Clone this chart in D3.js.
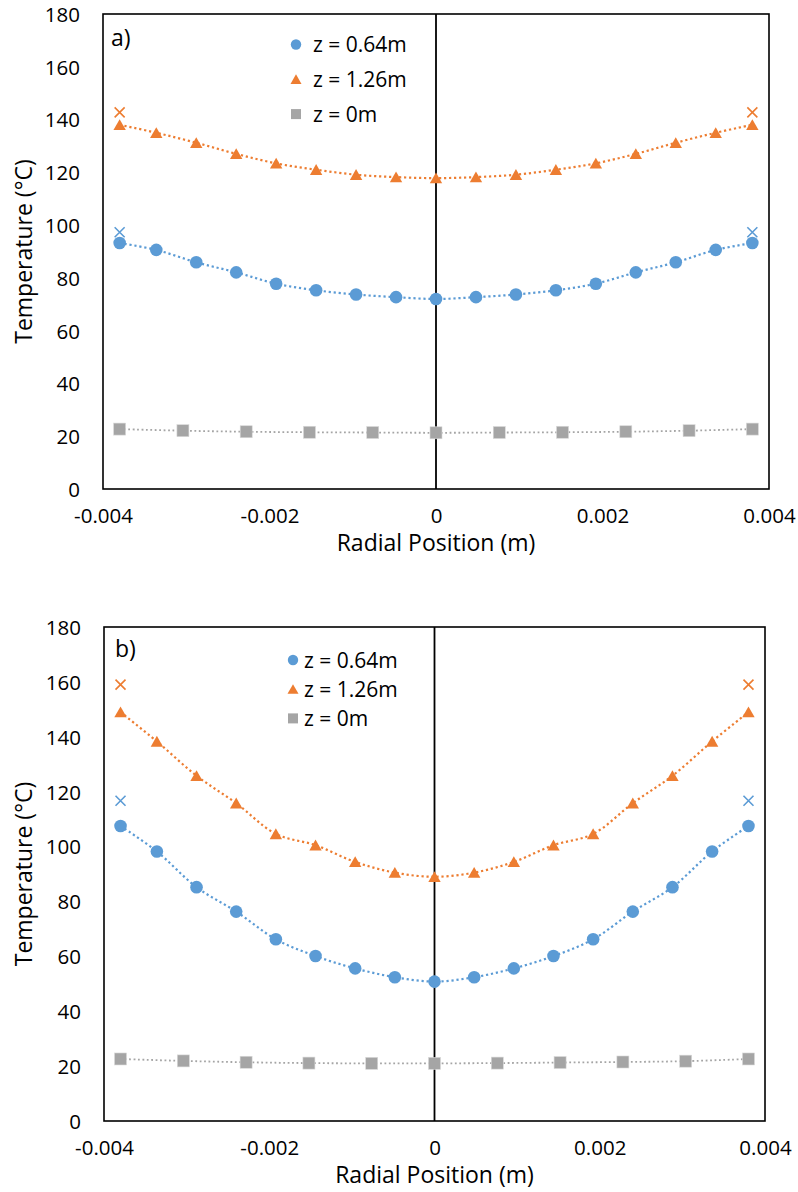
<!DOCTYPE html>
<html>
<head>
<meta charset="utf-8">
<script src="https://cdnjs.cloudflare.com/ajax/libs/d3/7.8.5/d3.min.js"></script>
<style>
  html, body { margin: 0; padding: 0; background: #ffffff; }
  svg { display: block; }
  text { font-family: "Open Sans", "Liberation Sans", sans-serif; fill: #000; }
</style>
</head>
<body>
<svg id="chart" width="798" height="1192"></svg>
<script>
// Radial grid of the simulated profiles (m)
const rFine = [-0.0038, -0.00336, -0.00288, -0.0024, -0.00192, -0.00144, -0.00096, -0.00048, 0,
               0.00048, 0.00096, 0.00144, 0.00192, 0.0024, 0.00288, 0.00336, 0.0038];
// Radial grid of the inlet profile (m)
const rInlet = [-0.0038, -0.00304, -0.00228, -0.00152, -0.00076, 0, 0.00076, 0.00152, 0.00228, 0.00304, 0.0038];
// Wall positions (m)
const rWall = [-0.0038, 0.0038];

// Panel a) temperatures (°C)
const a_z064 = [93.2, 90.6, 85.9, 82.1, 77.8, 75.3, 73.7, 72.7, 72.0, 72.7, 73.7, 75.3, 77.8, 82.1, 85.9, 90.6, 93.2];
const a_z126 = [138.0, 135.0, 131.2, 127.0, 123.4, 121.0, 119.1, 118.2, 117.8, 118.2, 119.1, 121.0, 123.4, 127.0, 131.2, 135.0, 138.0];
const a_z0   = [22.7, 22.1, 21.7, 21.5, 21.4, 21.3, 21.4, 21.5, 21.7, 22.1, 22.7];
const a_wall064 = [97.3, 97.3];
const a_wall126 = [142.7, 142.7];

// Panel b) temperatures (°C)
const b_z064 = [107.5, 98.2, 85.2, 76.3, 66.2, 60.1, 55.6, 52.4, 50.8, 52.4, 55.6, 60.1, 66.2, 76.3, 85.2, 98.2, 107.5];
const b_z126 = [149.0, 138.3, 125.8, 115.8, 104.6, 100.5, 94.4, 90.5, 89.0, 90.5, 94.4, 100.5, 104.6, 115.8, 125.8, 138.3, 149.0];
const b_z0   = [22.6, 21.9, 21.4, 21.1, 21.0, 21.0, 21.1, 21.3, 21.5, 21.8, 22.6];
const b_wall064 = [116.7, 116.7];
const b_wall126 = [159.0, 159.0];

// Axis ticks and labels
const xTicks = [-0.004, -0.002, 0, 0.002, 0.004];
const yTicks = [0, 20, 40, 60, 80, 100, 120, 140, 160, 180];
const seriesNames = ["z = 0.64m", "z = 1.26m", "z = 0m"];
const panelLabels = ["a)", "b)"];
const xTitle = "Radial Position (m)";
const yTitle = "Temperature (°C)";

const BLUE = "#5b9bd5", ORANGE = "#ed7d31", GRAY = "#a5a5a5";
const TICK_FS = 20.5, LEGEND_FS = 21, TITLE_FS = 23;

const svg = d3.select("#chart");

const panels = [
  { label: panelLabels[0], left: 103, top: 14, right: 769, bottom: 489,
    z064: a_z064, z126: a_z126, z0: a_z0, w064: a_wall064, w126: a_wall126,
    legend: { x: 296, y: 44.5, dy: 34.8, tx: 313 }, labelPos: { x: 111, y: 38 } },
  { label: panelLabels[1], left: 104, top: 627, right: 765, bottom: 1121,
    z064: b_z064, z126: b_z126, z0: b_z0, w064: b_wall064, w126: b_wall126,
    legend: { x: 293, y: 660, dy: 29.2, tx: 304 }, labelPos: { x: 115, y: 649 } }
];

const triPath = "M0,-5.6L6.2,5.2L-6.2,5.2Z";
const triPathSmall = "M0,-5L5.5,4.6L-5.5,4.6Z";

panels.forEach(p => {
  const g = svg.append("g");
  const x = d3.scaleLinear().domain([-0.004, 0.004]).range([p.left, p.right]);
  const y = d3.scaleLinear().domain([0, 180]).range([p.bottom, p.top]);

  // plot area frame
  g.append("rect")
    .attr("x", p.left).attr("y", p.top)
    .attr("width", p.right - p.left).attr("height", p.bottom - p.top)
    .attr("fill", "none").attr("stroke", "#000").attr("stroke-width", 1.6);

  // vertical axis line at r = 0
  g.append("line")
    .attr("x1", x(0)).attr("x2", x(0))
    .attr("y1", p.top).attr("y2", p.bottom)
    .attr("stroke", "#000").attr("stroke-width", 1.8);

  // y axis tick labels
  const yAxis = d3.axisLeft(y).tickValues(yTicks).tickSize(0).tickPadding(23)
    .tickFormat(d3.format("d"));
  const ya = g.append("g").attr("transform", `translate(${p.left},0)`).call(yAxis);
  ya.select(".domain").remove();
  ya.selectAll("text").attr("font-size", TICK_FS).attr("font-family", "Open Sans").attr("dy", "0.36em");

  // x axis tick labels
  const xAxis = d3.axisBottom(x).tickValues(xTicks).tickSize(0).tickPadding(19)
    .tickFormat(d => d === 0 ? "0" : d3.format(".3f")(d).replace("−", "-"));
  const xa = g.append("g").attr("transform", `translate(0,${p.bottom})`).call(xAxis);
  xa.select(".domain").remove();
  xa.selectAll("text").attr("font-size", TICK_FS).attr("font-family", "Open Sans").attr("dy", "0.71em");

  // axis titles
  g.append("text")
    .attr("x", (p.left + p.right) / 2).attr("y", p.bottom + 62)
    .attr("text-anchor", "middle").attr("font-size", TITLE_FS)
    .text(xTitle);
  g.append("text")
    .attr("transform", `translate(32,${(p.top + p.bottom) / 2}) rotate(-90)`)
    .attr("text-anchor", "middle").attr("font-size", TITLE_FS)
    .text(yTitle);

  // panel label
  g.append("text")
    .attr("x", p.labelPos.x).attr("y", p.labelPos.y).attr("dy", "0.36em")
    .attr("font-size", TITLE_FS).text(p.label);

  // smooth dotted profile lines
  const smooth = d3.line().curve(d3.curveCatmullRom.alpha(0.5));
  const drawLine = (xs, ys, color, width, dash) => {
    g.append("path")
      .attr("d", smooth(xs.map((r, i) => [x(r), y(ys[i])])))
      .attr("fill", "none").attr("stroke", color)
      .attr("stroke-width", width).attr("stroke-dasharray", dash);
  };
  drawLine(rInlet, p.z0, GRAY, 1.8, "1.8,2.6");
  drawLine(rFine, p.z064, BLUE, 2.2, "2.2,2.8");
  drawLine(rFine, p.z126, ORANGE, 2.2, "2.2,2.8");

  // inlet squares
  g.selectAll(null).data(p.z0).join("rect")
    .attr("x", (d, i) => x(rInlet[i]) - 6).attr("y", d => y(d) - 6)
    .attr("width", 12).attr("height", 12)
    .attr("fill", GRAY).attr("stroke", "#d9d9d9").attr("stroke-width", 0.6);

  // z = 0.64 m circles
  g.selectAll(null).data(p.z064).join("circle")
    .attr("cx", (d, i) => x(rFine[i])).attr("cy", d => y(d))
    .attr("r", 6.3).attr("fill", BLUE);

  // z = 1.26 m triangles
  g.selectAll(null).data(p.z126).join("path")
    .attr("transform", (d, i) => `translate(${x(rFine[i])},${y(d)})`)
    .attr("d", triPath).attr("fill", ORANGE);

  // wall temperature crosses
  const cross = (vals, color) => {
    g.selectAll(null).data(vals).join("path")
      .attr("transform", (d, i) => `translate(${x(rWall[i])},${y(d)})`)
      .attr("d", "M-5,-5L5,5M-5,5L5,-5")
      .attr("stroke", color).attr("stroke-width", 1.6).attr("fill", "none");
  };
  cross(p.w064, BLUE);
  cross(p.w126, ORANGE);

  // legend
  const L = p.legend;
  const lg = g.append("g");
  lg.append("circle").attr("cx", L.x).attr("cy", L.y).attr("r", 5.2).attr("fill", BLUE);
  lg.append("path").attr("transform", `translate(${L.x},${L.y + L.dy})`).attr("d", triPathSmall).attr("fill", ORANGE);
  lg.append("rect").attr("x", L.x - 5).attr("y", L.y + 2 * L.dy - 5).attr("width", 10).attr("height", 10).attr("fill", GRAY);
  seriesNames.forEach((name, i) => {
    lg.append("text").attr("x", L.tx).attr("y", L.y + i * L.dy).attr("dy", "0.36em")
      .attr("font-size", LEGEND_FS).text(name);
  });
});
</script>
</body>
</html>
